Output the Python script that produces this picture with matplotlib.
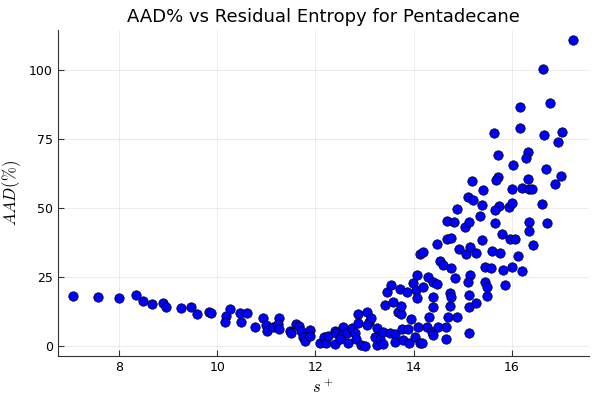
import numpy as np
import matplotlib
matplotlib.use('Agg')
import matplotlib.pyplot as plt

plt.rcParams['mathtext.fontset'] = 'cm'

# residual entropy s+ and AAD%
s_plus = [
    7.057, 7.578, 7.994, 8.352, 8.483, 8.678, 8.902, 8.957, 9.263, 9.466,
    9.589, 9.839, 9.880, 10.261, 10.179, 10.153, 10.458, 10.613, 10.479, 10.764,
    10.927, 10.994, 11.020, 11.136, 11.259, 11.238, 11.265, 11.489, 11.497, 11.599,
    11.672, 11.701, 11.754, 11.788, 11.890, 11.890,
    12.094, 12.175, 12.216, 12.263, 12.399, 12.420, 12.399, 12.568, 12.536, 12.637,
    12.670, 12.739, 12.807, 12.827, 12.861, 12.874, 12.923, 13.010, 13.045, 13.098,
    13.126, 13.045, 13.248, 13.214, 13.248, 12.501,
    13.316, 13.371, 13.383, 13.519, 13.621, 13.621, 13.758, 13.778, 13.892, 13.912,
    14.029, 14.130, 14.165, 14.096, 14.267, 14.369, 14.401, 14.503, 14.660, 14.660,
    15.134, 13.947, 14.320, 14.707, 14.878, 13.420, 13.587, 13.688, 13.737, 13.737,
    13.452, 13.540, 13.723, 13.872, 13.994, 14.049, 14.063, 14.075, 14.185, 14.299,
    14.401, 14.483, 14.401, 14.389, 14.741, 14.756, 14.741, 14.843, 14.538, 14.605,
    14.756, 14.130, 14.198, 14.483, 14.674, 14.756, 14.925, 15.067, 15.149, 15.265,
    15.149, 15.114, 15.134, 15.134, 15.265, 15.454, 15.454, 15.489, 15.489, 14.674,
    14.823, 14.878, 15.047, 15.134, 15.114, 15.216, 15.387, 15.353, 15.387, 15.420,
    16.947, 16.336, 16.283, 15.713, 16.018, 16.697, 16.996, 16.880, 15.713, 15.678,
    16.336, 15.181, 16.010, 16.202, 16.356, 16.405, 15.745, 15.658, 15.943, 16.010,
    16.621, 16.350, 16.356, 16.711, 15.658, 15.807, 15.963, 16.065, 16.426, 15.603,
    15.760, 16.132, 15.570, 15.814, 15.998, 16.202, 15.862,
    17.240, 16.629, 16.778, 16.167, 16.167, 15.637, 16.662, 17.016,
]
aad = [
    18.1, 17.6, 17.4, 18.6, 16.4, 15.3, 15.6, 14.0, 13.8, 14.1,
    11.6, 12.2, 11.8, 13.5, 10.8, 8.7, 11.8, 12.0, 8.8, 6.8,
    10.3, 7.6, 5.3, 6.9, 10.1, 7.9, 6.1, 5.5, 4.8, 8.0,
    7.2, 5.3, 3.2, 1.7, 5.8, 3.6,
    1.0, 3.4, 1.2, 3.6, 5.5, 4.7, 0.7, 6.8, 4.0, 4.6,
    1.2, 6.4, 4.6, 2.4, 11.5, 8.2, 0.4, 0.2, 12.4, 8.8,
    10.0, 7.6, 6.6, 3.2, 0.4, 2.4,
    2.4, 0.6, 5.2, 4.6, 4.3, 1.6, 6.1, 2.2, 6.1, 1.0,
    3.4, 1.0, 1.2, 7.0, 6.8, 5.2, 4.0, 7.0, 7.0, 2.4,
    4.6, 9.7, 10.6, 10.6, 10.4, 14.9, 16.1, 12.4, 11.6, 14.6,
    19.7, 22.1, 20.7, 19.7, 22.7, 20.3, 17.5, 25.7, 21.5, 24.9,
    23.3, 22.4, 17.6, 14.2, 19.1, 17.9, 14.5, 24.5, 30.9, 29.3,
    28.2, 33.2, 33.9, 36.8, 38.7, 39.2, 35.0, 33.3, 35.8, 33.6,
    25.7, 23.3, 18.5, 14.2, 15.7, 28.7, 23.3, 21.5, 18.1, 45.4,
    45.0, 49.5, 43.0, 44.8, 53.9, 52.9, 51.1, 47.1, 38.4, 56.5,
    74.0, 70.4, 68.0, 69.2, 65.6, 64.0, 61.7, 58.7, 61.1, 60.1,
    60.5, 59.9, 56.8, 57.1, 56.8, 56.8, 50.7, 49.3, 50.3, 51.7,
    51.4, 45.0, 41.8, 44.7, 44.5, 40.5, 38.7, 38.8, 36.6, 34.4,
    33.6, 32.7, 28.4, 27.5, 28.7, 27.2, 22.1,
    110.9, 100.3, 87.9, 86.7, 78.9, 77.1, 76.4, 77.4,
]

fig = plt.figure(figsize=(6, 4), dpi=100)
ax = fig.add_axes([0.096, 0.11, 0.885, 0.815])

ax.scatter(s_plus, aad, s=46, c='#0000ff', edgecolors='black', linewidths=0.5, zorder=3)

ax.set_xlim(6.75, 17.56)
ax.set_ylim(-3.6, 114.5)
ax.set_xticks([8, 10, 12, 14, 16])
ax.set_yticks([0, 25, 50, 75, 100])

ax.grid(True, color='black', alpha=0.1, linewidth=0.5)
ax.set_axisbelow(True)
for side in ['top', 'right']:
    ax.spines[side].set_visible(False)
for side in ['left', 'bottom']:
    ax.spines[side].set_color('#333333')
ax.tick_params(direction='in', length=4, labelsize=9, colors='#333333')
for lab in ax.get_xticklabels() + ax.get_yticklabels():
    lab.set_color('black')

ax.set_title('AAD% vs Residual Entropy for Pentadecane', fontsize=13, pad=6)
ax.set_xlabel(r'$s^+$', fontsize=12)
ax.set_ylabel(r'$AAD(\%)$', fontsize=12)

fig.savefig('out.png', dpi=100)
